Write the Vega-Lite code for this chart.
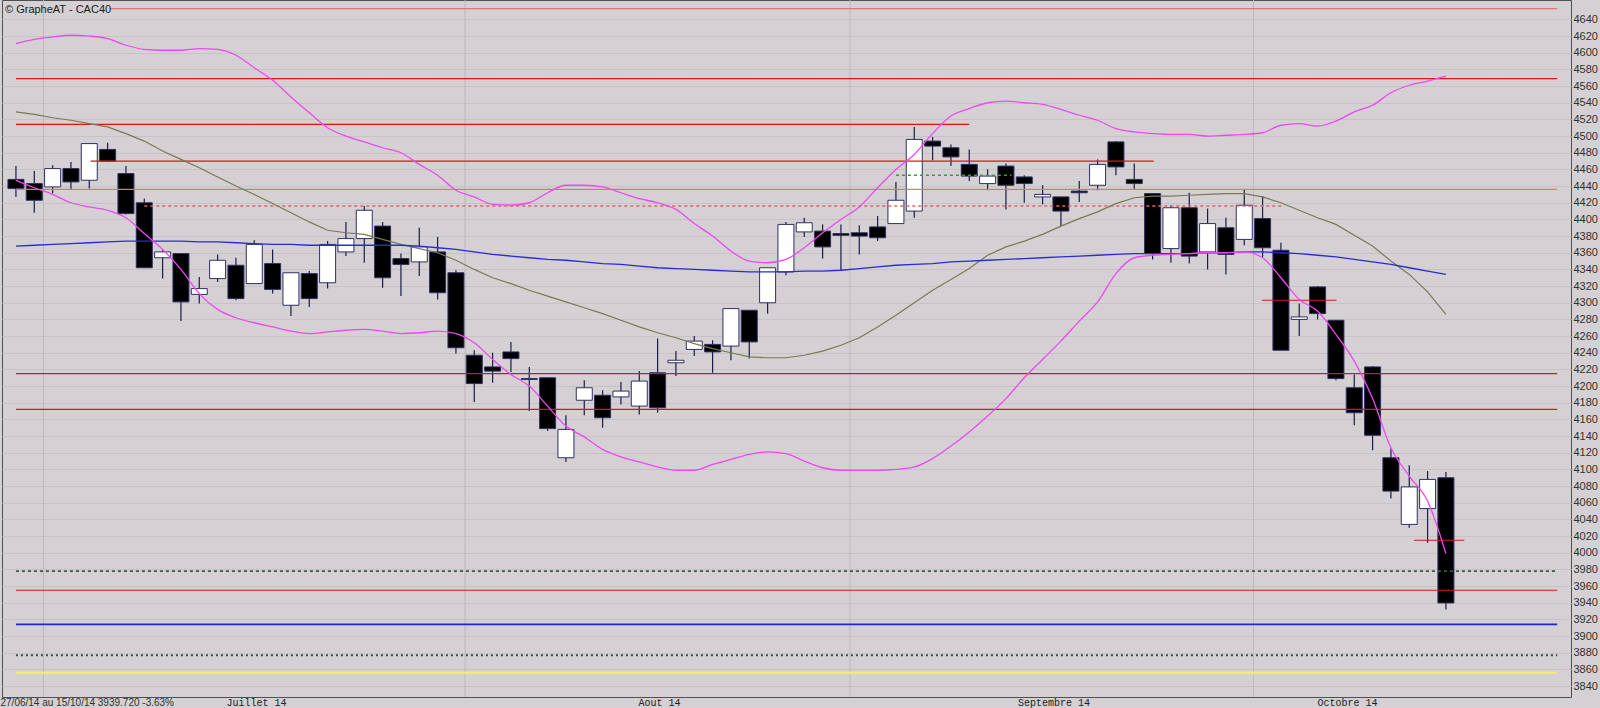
{
  "$schema": "https://vega.github.io/schema/vega-lite/v6.json",
  "width": 1569,
  "height": 697,
  "autosize": {"type": "none"},
  "padding": {"left": 2, "top": 0, "right": 29, "bottom": 11},
  "background": "#d4d0d4",
  "config": {
    "view": {"stroke": "#505050", "strokeWidth": 1, "fill": "#d4d0d4"},
    "axisY": {"title": null}
  },
  "title": {"text": "© GrapheAT - CAC40", "anchor": "start", "frame": "group", "offset": -15, "fontSize": 11, "fontWeight": "normal", "font": "Liberation Sans", "color": "#202020", "dx": 3},
  "datasets": {
    "k": [
      {"i":0,"d":"2014-06-27","o":4448,"h":4464,"l":4427,"c":4437,"m":4368,"s":4529,"u":4611,"b":4447},
      {"i":1,"d":"2014-06-30","o":4443,"h":4458,"l":4408,"c":4423,"m":4369,"s":4526,"u":4616,"b":4438},
      {"i":2,"d":"2014-07-01","o":4439,"h":4465,"l":4431,"c":4461,"m":4370,"s":4522,"u":4619,"b":4430},
      {"i":3,"d":"2014-07-02","o":4461,"h":4469,"l":4436,"c":4445,"m":4371,"s":4519,"u":4621,"b":4420},
      {"i":4,"d":"2014-07-03","o":4447,"h":4491,"l":4437,"c":4491,"m":4372,"s":4515,"u":4620,"b":4415},
      {"i":5,"d":"2014-07-04","o":4484,"h":4492,"l":4469,"c":4470,"m":4373,"s":4511,"u":4617,"b":4411},
      {"i":6,"d":"2014-07-07","o":4455,"h":4464,"l":4406,"c":4407,"m":4374,"s":4503,"u":4609,"b":4402},
      {"i":7,"d":"2014-07-08","o":4420,"h":4425,"l":4342,"c":4342,"m":4374,"s":4494,"u":4604,"b":4383},
      {"i":8,"d":"2014-07-09","o":4354,"h":4363,"l":4329,"c":4361,"m":4374,"s":4482,"u":4603,"b":4364},
      {"i":9,"d":"2014-07-10","o":4359,"h":4359,"l":4278,"c":4301,"m":4374,"s":4472,"u":4603,"b":4340},
      {"i":10,"d":"2014-07-11","o":4310,"h":4331,"l":4299,"c":4317,"m":4373,"s":4462,"u":4605,"b":4311},
      {"i":11,"d":"2014-07-14","o":4329,"h":4358,"l":4325,"c":4351,"m":4373,"s":4451,"u":4604,"b":4292},
      {"i":12,"d":"2014-07-15","o":4345,"h":4354,"l":4303,"c":4305,"m":4372,"s":4440,"u":4597,"b":4282},
      {"i":13,"d":"2014-07-16","o":4323,"h":4375,"l":4323,"c":4370,"m":4371,"s":4430,"u":4582,"b":4276},
      {"i":14,"d":"2014-07-17","o":4347,"h":4364,"l":4311,"c":4316,"m":4370,"s":4419,"u":4567,"b":4271},
      {"i":15,"d":"2014-07-18","o":4297,"h":4336,"l":4284,"c":4336,"m":4370,"s":4408,"u":4547,"b":4266},
      {"i":16,"d":"2014-07-21","o":4335,"h":4338,"l":4295,"c":4305,"m":4369,"s":4397,"u":4528,"b":4263},
      {"i":17,"d":"2014-07-22","o":4324,"h":4374,"l":4317,"c":4370,"m":4369,"s":4387,"u":4510,"b":4265},
      {"i":18,"d":"2014-07-23","o":4361,"h":4397,"l":4356,"c":4377,"m":4369,"s":4384,"u":4500,"b":4267},
      {"i":19,"d":"2014-07-24","o":4377,"h":4416,"l":4348,"c":4411,"m":4369,"s":4382,"u":4493,"b":4268},
      {"i":20,"d":"2014-07-25","o":4392,"h":4397,"l":4318,"c":4330,"m":4369,"s":4376,"u":4486,"b":4266},
      {"i":21,"d":"2014-07-28","o":4353,"h":4359,"l":4308,"c":4346,"m":4369,"s":4370,"u":4480,"b":4263},
      {"i":22,"d":"2014-07-29","o":4349,"h":4390,"l":4332,"c":4367,"m":4368,"s":4365,"u":4466,"b":4264},
      {"i":23,"d":"2014-07-30","o":4361,"h":4379,"l":4304,"c":4312,"m":4366,"s":4360,"u":4453,"b":4266},
      {"i":24,"d":"2014-07-31","o":4336,"h":4339,"l":4239,"c":4246,"m":4364,"s":4351,"u":4435,"b":4263},
      {"i":25,"d":"2014-08-01","o":4237,"h":4243,"l":4181,"c":4203,"m":4361,"s":4340,"u":4427,"b":4252},
      {"i":26,"d":"2014-08-04","o":4223,"h":4240,"l":4204,"c":4218,"m":4358,"s":4330,"u":4418,"b":4232},
      {"i":27,"d":"2014-08-05","o":4241,"h":4253,"l":4217,"c":4233,"m":4356,"s":4323,"u":4417,"b":4214},
      {"i":28,"d":"2014-08-06","o":4209,"h":4223,"l":4170,"c":4208,"m":4354,"s":4315,"u":4420,"b":4200},
      {"i":29,"d":"2014-08-07","o":4210,"h":4210,"l":4146,"c":4149,"m":4352,"s":4308,"u":4432,"b":4176},
      {"i":30,"d":"2014-08-08","o":4114,"h":4165,"l":4109,"c":4148,"m":4351,"s":4301,"u":4441,"b":4152},
      {"i":31,"d":"2014-08-11","o":4183,"h":4207,"l":4165,"c":4198,"m":4349,"s":4294,"u":4441,"b":4139},
      {"i":32,"d":"2014-08-12","o":4189,"h":4195,"l":4150,"c":4162,"m":4347,"s":4287,"u":4439,"b":4124},
      {"i":33,"d":"2014-08-13","o":4187,"h":4205,"l":4178,"c":4194,"m":4346,"s":4279,"u":4432,"b":4115},
      {"i":34,"d":"2014-08-14","o":4176,"h":4218,"l":4166,"c":4206,"m":4344,"s":4271,"u":4425,"b":4109},
      {"i":35,"d":"2014-08-15","o":4216,"h":4257,"l":4168,"c":4174,"m":4342,"s":4264,"u":4420,"b":4103},
      {"i":36,"d":"2014-08-18","o":4228,"h":4242,"l":4212,"c":4231,"m":4341,"s":4258,"u":4412,"b":4099},
      {"i":37,"d":"2014-08-19","o":4244,"h":4260,"l":4236,"c":4254,"m":4340,"s":4251,"u":4395,"b":4099},
      {"i":38,"d":"2014-08-20","o":4250,"h":4255,"l":4216,"c":4241,"m":4339,"s":4245,"u":4380,"b":4106},
      {"i":39,"d":"2014-08-21","o":4248,"h":4293,"l":4231,"c":4293,"m":4338,"s":4240,"u":4362,"b":4112},
      {"i":40,"d":"2014-08-22","o":4291,"h":4291,"l":4233,"c":4253,"m":4337,"s":4235,"u":4350,"b":4118},
      {"i":41,"d":"2014-08-25","o":4300,"h":4342,"l":4287,"c":4342,"m":4337,"s":4234,"u":4348,"b":4121},
      {"i":42,"d":"2014-08-26","o":4337,"h":4397,"l":4333,"c":4394,"m":4337,"s":4234,"u":4352,"b":4119},
      {"i":43,"d":"2014-08-27","o":4385,"h":4402,"l":4379,"c":4396,"m":4338,"s":4237,"u":4366,"b":4110},
      {"i":44,"d":"2014-08-28","o":4386,"h":4394,"l":4353,"c":4367,"m":4338,"s":4242,"u":4384,"b":4102},
      {"i":45,"d":"2014-08-29","o":4383,"h":4394,"l":4338,"c":4381,"m":4339,"s":4249,"u":4400,"b":4099},
      {"i":46,"d":"2014-09-01","o":4384,"h":4393,"l":4358,"c":4380,"m":4341,"s":4258,"u":4415,"b":4099},
      {"i":47,"d":"2014-09-02","o":4391,"h":4404,"l":4374,"c":4378,"m":4343,"s":4271,"u":4438,"b":4099},
      {"i":48,"d":"2014-09-03","o":4395,"h":4445,"l":4395,"c":4423,"m":4345,"s":4285,"u":4460,"b":4100},
      {"i":49,"d":"2014-09-04","o":4410,"h":4511,"l":4402,"c":4496,"m":4346,"s":4300,"u":4478,"b":4103},
      {"i":50,"d":"2014-09-05","o":4494,"h":4499,"l":4471,"c":4488,"m":4347,"s":4315,"u":4503,"b":4113},
      {"i":51,"d":"2014-09-08","o":4486,"h":4490,"l":4464,"c":4475,"m":4349,"s":4328,"u":4524,"b":4128},
      {"i":52,"d":"2014-09-09","o":4466,"h":4484,"l":4446,"c":4452,"m":4350,"s":4341,"u":4533,"b":4145},
      {"i":53,"d":"2014-09-10","o":4443,"h":4460,"l":4435,"c":4452,"m":4351,"s":4357,"u":4540,"b":4164},
      {"i":54,"d":"2014-09-11","o":4464,"h":4467,"l":4412,"c":4441,"m":4352,"s":4367,"u":4542,"b":4185},
      {"i":55,"d":"2014-09-12","o":4451,"h":4453,"l":4420,"c":4443,"m":4353,"s":4374,"u":4540,"b":4210},
      {"i":56,"d":"2014-09-15","o":4427,"h":4441,"l":4418,"c":4430,"m":4354,"s":4382,"u":4538,"b":4232},
      {"i":57,"d":"2014-09-16","o":4427,"h":4427,"l":4392,"c":4410,"m":4355,"s":4392,"u":4532,"b":4254},
      {"i":58,"d":"2014-09-17","o":4434,"h":4446,"l":4421,"c":4432,"m":4356,"s":4401,"u":4525,"b":4278},
      {"i":59,"d":"2014-09-18","o":4441,"h":4472,"l":4435,"c":4466,"m":4357,"s":4409,"u":4519,"b":4301},
      {"i":60,"d":"2014-09-19","o":4493,"h":4494,"l":4453,"c":4463,"m":4358,"s":4419,"u":4509,"b":4335},
      {"i":61,"d":"2014-09-22","o":4448,"h":4467,"l":4436,"c":4443,"m":4359,"s":4426,"u":4505,"b":4354},
      {"i":62,"d":"2014-09-23","o":4431,"h":4431,"l":4352,"c":4359,"m":4359,"s":4428,"u":4503,"b":4357},
      {"i":63,"d":"2014-09-24","o":4365,"h":4417,"l":4348,"c":4414,"m":4359,"s":4428,"u":4502,"b":4358},
      {"i":64,"d":"2014-09-25","o":4414,"h":4432,"l":4347,"c":4356,"m":4359,"s":4429,"u":4502,"b":4359},
      {"i":65,"d":"2014-09-26","o":4361,"h":4413,"l":4340,"c":4395,"m":4360,"s":4430,"u":4500,"b":4360},
      {"i":66,"d":"2014-09-29","o":4390,"h":4402,"l":4334,"c":4358,"m":4360,"s":4431,"u":4501,"b":4360},
      {"i":67,"d":"2014-09-30","o":4376,"h":4436,"l":4369,"c":4417,"m":4361,"s":4431,"u":4502,"b":4361},
      {"i":68,"d":"2014-10-01","o":4401,"h":4428,"l":4355,"c":4366,"m":4361,"s":4427,"u":4504,"b":4354},
      {"i":69,"d":"2014-10-02","o":4363,"h":4372,"l":4243,"c":4243,"m":4360,"s":4420,"u":4513,"b":4330},
      {"i":70,"d":"2014-10-03","o":4280,"h":4299,"l":4260,"c":4283,"m":4359,"s":4411,"u":4515,"b":4304},
      {"i":71,"d":"2014-10-06","o":4319,"h":4320,"l":4280,"c":4287,"m":4357,"s":4402,"u":4512,"b":4290},
      {"i":72,"d":"2014-10-07","o":4279,"h":4279,"l":4207,"c":4209,"m":4355,"s":4394,"u":4518,"b":4262},
      {"i":73,"d":"2014-10-08","o":4198,"h":4214,"l":4153,"c":4168,"m":4352,"s":4381,"u":4529,"b":4230},
      {"i":74,"d":"2014-10-09","o":4223,"h":4224,"l":4123,"c":4141,"m":4349,"s":4368,"u":4537,"b":4185},
      {"i":75,"d":"2014-10-10","o":4114,"h":4125,"l":4065,"c":4074,"m":4346,"s":4350,"u":4552,"b":4126},
      {"i":76,"d":"2014-10-13","o":4034,"h":4105,"l":4030,"c":4079,"m":4342,"s":4334,"u":4561,"b":4092},
      {"i":77,"d":"2014-10-14","o":4053,"h":4098,"l":4012,"c":4088,"m":4338,"s":4313,"u":4566,"b":4062},
      {"i":78,"d":"2014-10-15","o":4090,"h":4097,"l":3932,"c":3939.72,"m":4334,"s":4286,"u":4572,"b":3999}
    ],
    "levels": [
      {"v":4653,"i":5.1,"i2":84.07,"kind":"pink"},
      {"v":4569,"i":0,"i2":84.07,"kind":"red"},
      {"v":4514,"i":0,"i2":52.0,"kind":"red"},
      {"v":4470,"i":4.07,"i2":62.06,"kind":"red"},
      {"v":4436,"i":0,"i2":84.07,"kind":"pink"},
      {"v":4416,"i":7.0,"i2":69.05,"kind":"reddash"},
      {"v":4453,"i":48.0,"i2":54.3,"kind":"greendash"},
      {"v":4303,"i":67.97,"i2":72.04,"kind":"red"},
      {"v":4215,"i":0,"i2":84.07,"kind":"red"},
      {"v":4172,"i":0,"i2":84.07,"kind":"red"},
      {"v":4015,"i":76.26,"i2":79.0,"kind":"red"},
      {"v":3978,"i":0,"i2":84.07,"kind":"darkdash"},
      {"v":3955,"i":0,"i2":84.07,"kind":"red"},
      {"v":3914,"i":0,"i2":84.07,"kind":"blue"},
      {"v":3877,"i":0,"i2":84.07,"kind":"tealdash"},
      {"v":3856,"i":0,"i2":84.07,"kind":"yellow"}
    ],
    "months": [{"i":1.5},{"i":24.5},{"i":45.5},{"i":67.5}]
  },
  "encoding": {
    "x": {
      "field": "i", "type": "quantitative",
      "scale": {"domain": [-0.488, 84.55], "nice": false, "zero": false},
      "axis": {
        "values": [13.1, 35.07, 56.6, 72.6],
        "labelExpr": "datum.value < 20 ? 'Juillet 14' : datum.value < 45 ? 'Aout 14' : datum.value < 65 ? 'Septembre 14' : 'Octobre 14'",
        "grid": false, "ticks": false, "domain": false,
        "labelFont": "Liberation Mono", "labelFontSize": 10, "labelColor": "#202020",
        "labelBaseline": "top", "labelPadding": 0, "labelOverlap": false, "labelFlush": false,
        "title": "27/06/14 au 15/10/14  3939.720  -3.63%",
        "titleX": -2, "titleY": 0, "titleAlign": "left", "titleAnchor": "start", "titleBaseline": "top",
        "titleFont": "Liberation Sans Narrow, Liberation Sans", "titleFontSize": 10, "titleFontWeight": "normal", "titleColor": "#303030"
      }
    }
  },
  "layer": [
    {
      "data": {"name": "months"},
      "mark": {"type": "rule", "color": "#bcb8bc", "strokeWidth": 1}
    },
    {
      "data": {"name": "k"},
      "mark": {"type": "rule", "color": "#1c1c48", "strokeWidth": 1.2},
      "encoding": {
        "y": {
          "field": "l", "type": "quantitative",
          "scale": {"domain": [3826.9, 4663.3], "nice": false, "zero": false},
          "axis": {
            "orient": "right", "values": [3840,3860,3880,3900,3920,3940,3960,3980,4000,4020,4040,4060,4080,4100,4120,4140,4160,4180,4200,4220,4240,4260,4280,4300,4320,4340,4360,4380,4400,4420,4440,4460,4480,4500,4520,4540,4560,4580,4600,4620,4640],
            "format": "d", "grid": true, "gridColor": "#c6c2c6", "gridWidth": 1,
            "ticks": false, "domain": false, "labelPadding": 2, "labelAlign": "left",
            "labelFont": "Liberation Sans", "labelFontSize": 11, "labelColor": "#303030",
            "labelOverlap": false, "title": null
          }
        },
        "y2": {"field": "h"}
      }
    },
    {
      "data": {"name": "k"},
      "mark": {"type": "bar", "size": 16, "stroke": "#303060", "strokeWidth": 1},
      "encoding": {
        "y": {"field": "o", "type": "quantitative", "scale": {"domain": [3826.9, 4663.3], "nice": false, "zero": false},
          "axis": {
            "orient": "right", "values": [3840,3860,3880,3900,3920,3940,3960,3980,4000,4020,4040,4060,4080,4100,4120,4140,4160,4180,4200,4220,4240,4260,4280,4300,4320,4340,4360,4380,4400,4420,4440,4460,4480,4500,4520,4540,4560,4580,4600,4620,4640],
            "format": "d", "grid": true, "gridColor": "#c6c2c6", "gridWidth": 1,
            "ticks": false, "domain": false, "labelPadding": 2, "labelAlign": "left",
            "labelFont": "Liberation Sans", "labelFontSize": 11, "labelColor": "#303030",
            "labelOverlap": false, "title": null
          }},
        "y2": {"field": "c"},
        "fill": {"condition": {"test": "datum.c >= datum.o", "value": "#ffffff"}, "value": "#000000"}
      }
    },
    {
      "data": {"name": "levels"},
      "mark": {"type": "rule"},
      "encoding": {
        "x2": {"field": "i2"},
        "y": {"field": "v", "type": "quantitative", "scale": {"domain": [3826.9, 4663.3], "nice": false, "zero": false},
          "axis": {
            "orient": "right", "values": [3840,3860,3880,3900,3920,3940,3960,3980,4000,4020,4040,4060,4080,4100,4120,4140,4160,4180,4200,4220,4240,4260,4280,4300,4320,4340,4360,4380,4400,4420,4440,4460,4480,4500,4520,4540,4560,4580,4600,4620,4640],
            "format": "d", "grid": true, "gridColor": "#c6c2c6", "gridWidth": 1,
            "ticks": false, "domain": false, "labelPadding": 2, "labelAlign": "left",
            "labelFont": "Liberation Sans", "labelFontSize": 11, "labelColor": "#303030",
            "labelOverlap": false, "title": null
          }},
        "color": {"field": "kind", "type": "nominal", "legend": null,
          "scale": {"domain": ["red","pink","reddash","greendash","darkdash","blue","tealdash","yellow"],
                    "range": ["#dd1515","#e47474","#e06464","#30a030","#3c5a3c","#2424e0","#2c5050","#f2f070"]}},
        "strokeWidth": {"field": "kind", "type": "nominal", "legend": null,
          "scale": {"domain": ["red","pink","reddash","greendash","darkdash","blue","tealdash","yellow"],
                    "range": [1.2, 2.2, 1.2, 1, 1, 1.3, 1, 2]}},
        "strokeDash": {"field": "kind", "type": "nominal", "legend": null,
          "scale": {"domain": ["red","pink","reddash","greendash","darkdash","blue","tealdash","yellow"],
                    "range": [[1,0],[1,0],[3,3],[3,3],[3,3],[1,0],[2,3],[1,0]]}}
      }
    },
    {
      "data": {"name": "k"},
      "mark": {"type": "line", "color": "#7a7a52", "strokeWidth": 1.2},
      "encoding": {"y": {"field": "s", "type": "quantitative", "scale": {"domain": [3826.9, 4663.3], "nice": false, "zero": false},
          "axis": {
            "orient": "right", "values": [3840,3860,3880,3900,3920,3940,3960,3980,4000,4020,4040,4060,4080,4100,4120,4140,4160,4180,4200,4220,4240,4260,4280,4300,4320,4340,4360,4380,4400,4420,4440,4460,4480,4500,4520,4540,4560,4580,4600,4620,4640],
            "format": "d", "grid": true, "gridColor": "#c6c2c6", "gridWidth": 1,
            "ticks": false, "domain": false, "labelPadding": 2, "labelAlign": "left",
            "labelFont": "Liberation Sans", "labelFontSize": 11, "labelColor": "#303030",
            "labelOverlap": false, "title": null
          }}}
    },
    {
      "data": {"name": "k"},
      "mark": {"type": "line", "color": "#2a2ad8", "strokeWidth": 1.4},
      "encoding": {"y": {"field": "m", "type": "quantitative", "scale": {"domain": [3826.9, 4663.3], "nice": false, "zero": false},
          "axis": {
            "orient": "right", "values": [3840,3860,3880,3900,3920,3940,3960,3980,4000,4020,4040,4060,4080,4100,4120,4140,4160,4180,4200,4220,4240,4260,4280,4300,4320,4340,4360,4380,4400,4420,4440,4460,4480,4500,4520,4540,4560,4580,4600,4620,4640],
            "format": "d", "grid": true, "gridColor": "#c6c2c6", "gridWidth": 1,
            "ticks": false, "domain": false, "labelPadding": 2, "labelAlign": "left",
            "labelFont": "Liberation Sans", "labelFontSize": 11, "labelColor": "#303030",
            "labelOverlap": false, "title": null
          }}}
    },
    {
      "data": {"name": "k"},
      "mark": {"type": "line", "color": "#f048f0", "strokeWidth": 1.3, "interpolate": "monotone"},
      "encoding": {"y": {"field": "u", "type": "quantitative", "scale": {"domain": [3826.9, 4663.3], "nice": false, "zero": false},
          "axis": {
            "orient": "right", "values": [3840,3860,3880,3900,3920,3940,3960,3980,4000,4020,4040,4060,4080,4100,4120,4140,4160,4180,4200,4220,4240,4260,4280,4300,4320,4340,4360,4380,4400,4420,4440,4460,4480,4500,4520,4540,4560,4580,4600,4620,4640],
            "format": "d", "grid": true, "gridColor": "#c6c2c6", "gridWidth": 1,
            "ticks": false, "domain": false, "labelPadding": 2, "labelAlign": "left",
            "labelFont": "Liberation Sans", "labelFontSize": 11, "labelColor": "#303030",
            "labelOverlap": false, "title": null
          }}}
    },
    {
      "data": {"name": "k"},
      "mark": {"type": "line", "color": "#f048f0", "strokeWidth": 1.3, "interpolate": "monotone"},
      "encoding": {"y": {"field": "b", "type": "quantitative", "scale": {"domain": [3826.9, 4663.3], "nice": false, "zero": false},
          "axis": {
            "orient": "right", "values": [3840,3860,3880,3900,3920,3940,3960,3980,4000,4020,4040,4060,4080,4100,4120,4140,4160,4180,4200,4220,4240,4260,4280,4300,4320,4340,4360,4380,4400,4420,4440,4460,4480,4500,4520,4540,4560,4580,4600,4620,4640],
            "format": "d", "grid": true, "gridColor": "#c6c2c6", "gridWidth": 1,
            "ticks": false, "domain": false, "labelPadding": 2, "labelAlign": "left",
            "labelFont": "Liberation Sans", "labelFontSize": 11, "labelColor": "#303030",
            "labelOverlap": false, "title": null
          }}}
    }
  ]
}
